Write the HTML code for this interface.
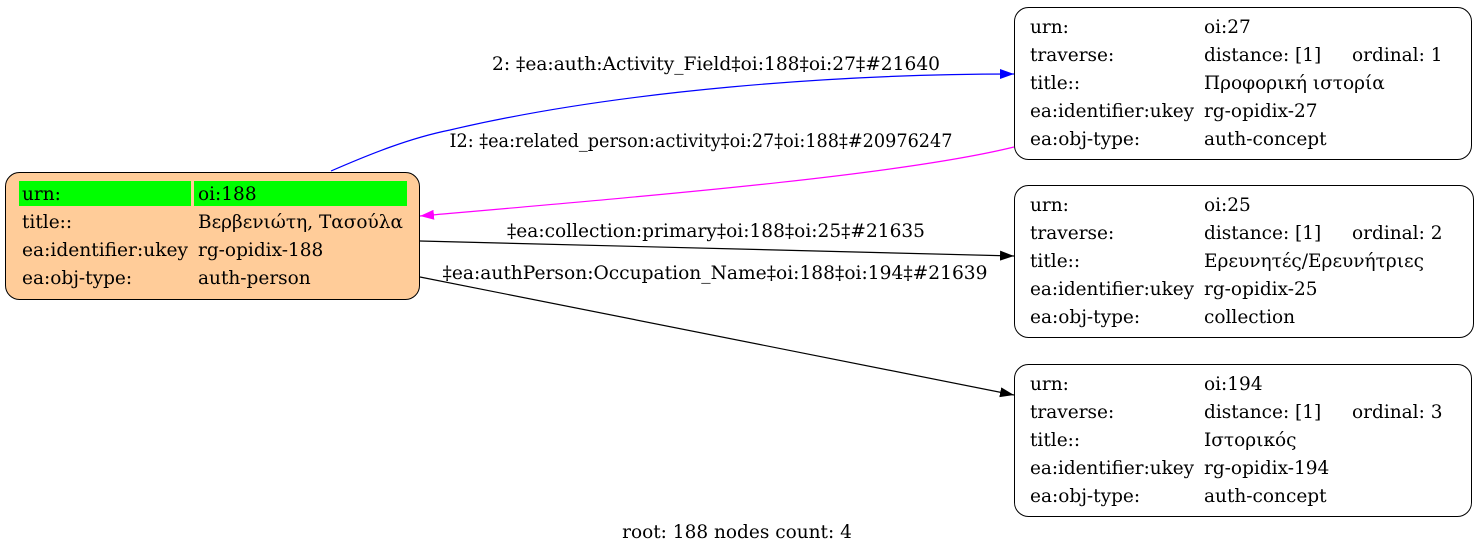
<!DOCTYPE html>
<html><head><meta charset="utf-8"><style>
html,body{margin:0;padding:0;background:#fff;}
svg{display:block;}
text{font-family:"DejaVu Serif","Liberation Serif",serif;font-size:18.5px;fill:#000;}
</style></head><body>
<svg width="1477" height="553" viewBox="0 0 1477 553" xmlns="http://www.w3.org/2000/svg">
<defs>
<marker id="ab" markerWidth="14" markerHeight="10" refX="14" refY="5" orient="auto" markerUnits="userSpaceOnUse"><path d="M0,0 L14,5 L0,10 Z" fill="#00f"/></marker>
<marker id="am" markerWidth="14" markerHeight="10" refX="14" refY="5" orient="auto" markerUnits="userSpaceOnUse"><path d="M0,0 L14,5 L0,10 Z" fill="#f0f"/></marker>
<marker id="ak" markerWidth="14" markerHeight="10" refX="14" refY="5" orient="auto" markerUnits="userSpaceOnUse"><path d="M0,0 L14,5 L0,10 Z" fill="#000"/></marker>
</defs>

<path d="M331,171 C370,154 410,138 450,130 C620,90 840,74 1014,74" fill="none" stroke="#00f" stroke-width="1.2" marker-end="url(#ab)"/>
<path d="M1014,147 C900,175 660,195 420,216" fill="none" stroke="#f0f" stroke-width="1.2" marker-end="url(#am)"/>
<path d="M420,241 L1014,256" fill="none" stroke="#000" stroke-width="1.2" marker-end="url(#ak)"/>
<path d="M420,277 L1014,395" fill="none" stroke="#000" stroke-width="1.2" marker-end="url(#ak)"/>

<text x="716" y="70" text-anchor="middle" textLength="448" lengthAdjust="spacingAndGlyphs">2: ‡ea:auth:Activity_Field‡oi:188‡oi:27‡#21640</text>
<text x="701" y="147" text-anchor="middle" textLength="503" lengthAdjust="spacingAndGlyphs">I2: ‡ea:related_person:activity‡oi:27‡oi:188‡#20976247</text>
<text x="716" y="237" text-anchor="middle" textLength="418" lengthAdjust="spacingAndGlyphs">‡ea:collection:primary‡oi:188‡oi:25‡#21635</text>
<text x="715" y="279" text-anchor="middle" textLength="545" lengthAdjust="spacingAndGlyphs">‡ea:authPerson:Occupation_Name‡oi:188‡oi:194‡#21639</text>

<rect x="5.5" y="172.5" width="414" height="127" rx="14" fill="#ffcc99" stroke="#000" stroke-width="1"/>
<rect x="19" y="181" width="172" height="25" fill="#00ff00"/>
<rect x="194" y="181" width="213" height="25" fill="#00ff00"/>
<text x="22" y="200">urn:</text><text x="198" y="200">oi:188</text>
<text x="22" y="228">title::</text><text x="198" y="228" textLength="205" lengthAdjust="spacingAndGlyphs">Βερβενιώτη, Τασούλα</text>
<text x="22" y="256" textLength="166" lengthAdjust="spacingAndGlyphs">ea:identifier:ukey</text><text x="198" y="256">rg-opidix-188</text>
<text x="22" y="284">ea:obj-type:</text><text x="198" y="284">auth-person</text>

<rect x="1014.5" y="7.5" width="457" height="152" rx="14" fill="#fff" stroke="#000" stroke-width="1"/>
<text x="1030" y="33">urn:</text><text x="1204" y="33">oi:27</text>
<text x="1030" y="61">traverse:</text><text x="1204" y="61">distance: [1]</text><text x="1352" y="61">ordinal: 1</text>
<text x="1030" y="89">title::</text><text x="1204" y="89">Προφορική ιστορία</text>
<text x="1030" y="117" textLength="164" lengthAdjust="spacingAndGlyphs">ea:identifier:ukey</text><text x="1204" y="117">rg-opidix-27</text>
<text x="1030" y="145">ea:obj-type:</text><text x="1204" y="145">auth-concept</text>

<rect x="1014.5" y="185.5" width="459" height="152" rx="14" fill="#fff" stroke="#000" stroke-width="1"/>
<text x="1030" y="211">urn:</text><text x="1204" y="211">oi:25</text>
<text x="1030" y="239">traverse:</text><text x="1204" y="239">distance: [1]</text><text x="1352" y="239">ordinal: 2</text>
<text x="1030" y="267">title::</text><text x="1204" y="267" textLength="220" lengthAdjust="spacingAndGlyphs">Ερευνητές/Ερευνήτριες</text>
<text x="1030" y="295" textLength="164" lengthAdjust="spacingAndGlyphs">ea:identifier:ukey</text><text x="1204" y="295">rg-opidix-25</text>
<text x="1030" y="323">ea:obj-type:</text><text x="1204" y="323">collection</text>

<rect x="1014.5" y="364.5" width="457" height="152" rx="14" fill="#fff" stroke="#000" stroke-width="1"/>
<text x="1030" y="390">urn:</text><text x="1204" y="390">oi:194</text>
<text x="1030" y="418">traverse:</text><text x="1204" y="418">distance: [1]</text><text x="1352" y="418">ordinal: 3</text>
<text x="1030" y="446">title::</text><text x="1204" y="446">Ιστορικός</text>
<text x="1030" y="474" textLength="164" lengthAdjust="spacingAndGlyphs">ea:identifier:ukey</text><text x="1204" y="474">rg-opidix-194</text>
<text x="1030" y="502">ea:obj-type:</text><text x="1204" y="502">auth-concept</text>

<text x="737" y="538" text-anchor="middle">root: 188 nodes count: 4</text>
</svg>
</body></html>
